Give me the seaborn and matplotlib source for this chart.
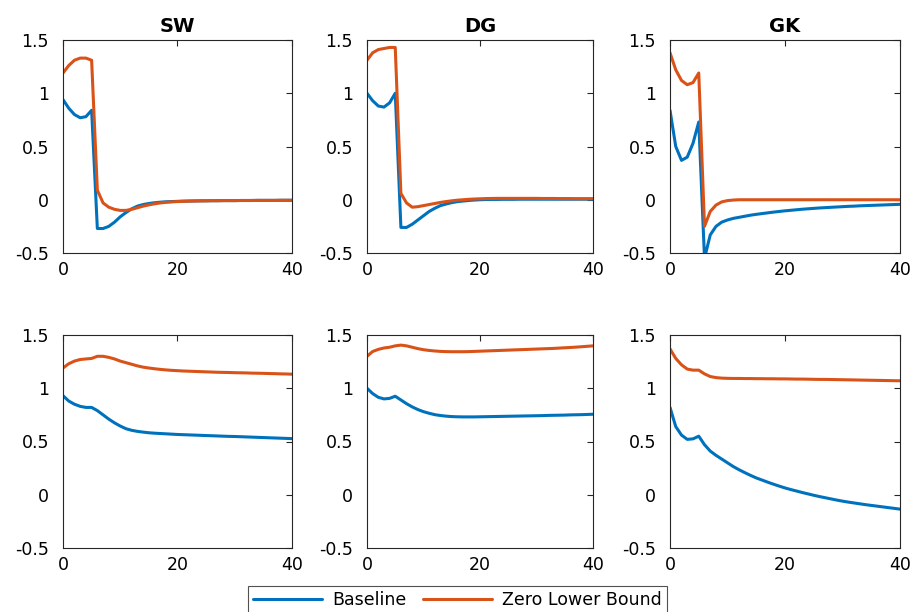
import numpy as np
import pandas as pd
import matplotlib
matplotlib.use("Agg")
import matplotlib.pyplot as plt
import seaborn as sns

# horizons 0..40
t = list(range(41))
models = ["SW", "DG", "GK"]

# top row
sw_top_base = [0.94, 0.86, 0.80, 0.77, 0.78, 0.84, -0.27, -0.27, -0.25, -0.21,
               -0.16, -0.12, -0.085, -0.06, -0.045, -0.035, -0.028, -0.023, -0.019, -0.017,
               -0.015, -0.013, -0.012, -0.011, -0.010, -0.010, -0.009, -0.009, -0.008, -0.008,
               -0.008, -0.007, -0.007, -0.007, -0.006, -0.006, -0.006, -0.006, -0.005, -0.005, -0.005]
sw_top_zlb = [1.19, 1.26, 1.31, 1.33, 1.33, 1.31, 0.09, -0.03, -0.07, -0.09,
              -0.10, -0.10, -0.09, -0.075, -0.06, -0.048, -0.038, -0.03, -0.024, -0.02,
              -0.017, -0.015, -0.013, -0.012, -0.011, -0.010, -0.009, -0.009, -0.008, -0.008,
              -0.008, -0.007, -0.007, -0.007, -0.006, -0.006, -0.006, -0.006, -0.005, -0.005, -0.005]
dg_top_base = [1.0, 0.93, 0.88, 0.87, 0.91, 1.0, -0.26, -0.26, -0.23, -0.19,
               -0.15, -0.11, -0.08, -0.055, -0.04, -0.027, -0.018, -0.012, -0.007, -0.003,
               0.0, 0.002, 0.003, 0.003, 0.004, 0.004, 0.004, 0.005, 0.005, 0.005,
               0.005, 0.005, 0.005, 0.005, 0.005, 0.005, 0.005, 0.005, 0.005, 0.005, 0.005]
dg_top_zlb = [1.31, 1.38, 1.41, 1.42, 1.43, 1.43, 0.06, -0.03, -0.07, -0.065,
              -0.055, -0.045, -0.035, -0.025, -0.017, -0.01, -0.004, 0.0, 0.004, 0.007,
              0.009, 0.011, 0.012, 0.013, 0.013, 0.013, 0.013, 0.013, 0.013, 0.013,
              0.013, 0.012, 0.012, 0.012, 0.011, 0.011, 0.011, 0.010, 0.010, 0.010, 0.010]
gk_top_base = [0.84, 0.50, 0.37, 0.40, 0.53, 0.73, -0.55, -0.33, -0.25, -0.21,
               -0.19, -0.175, -0.165, -0.155, -0.145, -0.137, -0.13, -0.123, -0.116, -0.11,
               -0.104, -0.099, -0.094, -0.089, -0.085, -0.081, -0.077, -0.074, -0.071, -0.068,
               -0.065, -0.062, -0.06, -0.057, -0.055, -0.053, -0.051, -0.049, -0.047, -0.045, -0.043]
gk_top_zlb = [1.38, 1.22, 1.12, 1.08, 1.10, 1.19, -0.25, -0.11, -0.05, -0.02,
              -0.008, -0.003, 0.0, 0.0, 0.0, 0.0, 0.0, 0.0, 0.0, 0.0,
              0.0, 0.0, 0.0, 0.0, 0.0, 0.0, 0.0, 0.0, 0.0, 0.0,
              0.0, 0.0, 0.0, 0.0, 0.0, 0.0, 0.0, 0.0, 0.0, 0.0, 0.0]

# bottom row
sw_bot_base = [0.93, 0.88, 0.85, 0.83, 0.82, 0.82, 0.79, 0.75, 0.71, 0.675,
               0.645, 0.62, 0.605, 0.595, 0.588, 0.582, 0.578, 0.575, 0.572, 0.569,
               0.566, 0.564, 0.562, 0.56, 0.558, 0.556, 0.554, 0.552, 0.55, 0.548,
               0.547, 0.545, 0.543, 0.541, 0.539, 0.537, 0.535, 0.533, 0.531, 0.529, 0.527]
sw_bot_zlb = [1.19, 1.23, 1.255, 1.27, 1.275, 1.28, 1.30, 1.30, 1.29, 1.275,
              1.255, 1.24, 1.225, 1.21, 1.198, 1.19, 1.183, 1.177, 1.172, 1.168,
              1.165, 1.162, 1.16, 1.158, 1.156, 1.154, 1.152, 1.15, 1.149, 1.148,
              1.146, 1.145, 1.144, 1.142, 1.141, 1.14, 1.138, 1.137, 1.135, 1.134, 1.132]
dg_bot_base = [1.0, 0.95, 0.915, 0.90, 0.905, 0.925, 0.89, 0.855, 0.825, 0.80,
               0.78, 0.765, 0.752, 0.744, 0.738, 0.734, 0.732, 0.731, 0.731, 0.731,
               0.732, 0.733, 0.734, 0.735, 0.736, 0.737, 0.738, 0.739, 0.74, 0.741,
               0.742, 0.743, 0.745, 0.746, 0.747, 0.748, 0.75, 0.751, 0.752, 0.754, 0.756]
dg_bot_zlb = [1.30, 1.345, 1.365, 1.378, 1.385, 1.398, 1.405, 1.398, 1.385, 1.372,
              1.362, 1.355, 1.35, 1.346, 1.344, 1.343, 1.343, 1.343, 1.344, 1.346,
              1.348, 1.35, 1.352, 1.354, 1.356, 1.358, 1.36, 1.362, 1.364, 1.366,
              1.368, 1.37, 1.372, 1.374, 1.377, 1.38, 1.383, 1.386, 1.39, 1.394, 1.398]
gk_bot_base = [0.82, 0.64, 0.56, 0.52, 0.525, 0.55, 0.47, 0.41, 0.37, 0.335,
               0.30, 0.265, 0.235, 0.208, 0.182, 0.158, 0.138, 0.118, 0.099, 0.081,
               0.064, 0.049, 0.035, 0.021, 0.008, -0.005, -0.017, -0.028, -0.039, -0.05,
               -0.06, -0.069, -0.077, -0.085, -0.093, -0.10, -0.107, -0.114, -0.121, -0.128, -0.135]
gk_bot_zlb = [1.37, 1.28, 1.22, 1.18, 1.17, 1.17, 1.135, 1.11, 1.10, 1.095,
              1.093, 1.092, 1.092, 1.091, 1.091, 1.090, 1.090, 1.089, 1.089, 1.088,
              1.088, 1.087, 1.086, 1.086, 1.085, 1.084, 1.083, 1.083, 1.082, 1.081,
              1.080, 1.079, 1.078, 1.077, 1.076, 1.075, 1.074, 1.073, 1.072, 1.071, 1.070]

top_rows = [(sw_top_base, sw_top_zlb), (dg_top_base, dg_top_zlb), (gk_top_base, gk_top_zlb)]
bot_rows = [(sw_bot_base, sw_bot_zlb), (dg_bot_base, dg_bot_zlb), (gk_bot_base, gk_bot_zlb)]

y_ticks = [-0.5, 0, 0.5, 1, 1.5]
y_labels = ["-0.5", "0", "0.5", "1", "1.5"]
x_ticks = [0, 20, 40]
palette = {"Baseline": "#0072BD", "Zero Lower Bound": "#D95319"}

sns.set_style("white")
plt.rcParams["font.family"] = ["DejaVu Sans"]
plt.rcParams["text.color"] = "black"

fig = plt.figure(figsize=(9.15, 6.12), dpi=100)
W, H = 915, 612
lefts = [63, 367, 670]
widths = [229, 226, 230]
tops = [40, 335]
height = 213


def draw_panel(ax, base, zlb, title=None):
    df = pd.DataFrame({
        "t": t + t,
        "value": base + zlb,
        "series": ["Baseline"] * len(t) + ["Zero Lower Bound"] * len(t),
    })
    sns.lineplot(data=df, x="t", y="value", hue="series", palette=palette,
                 linewidth=2.2, ax=ax, legend=False)
    ax.set_xlim(0, 40)
    ax.set_ylim(-0.5, 1.5)
    ax.set_xticks(x_ticks)
    ax.set_yticks(y_ticks)
    ax.set_yticklabels(y_labels)
    ax.set_xlabel("")
    ax.set_ylabel("")
    ax.tick_params(direction="in", length=4, width=0.8, labelsize=12.5, color="#262626",
                   labelcolor="black", top=True, right=True)
    ax.tick_params(axis="y", pad=10)
    ax.tick_params(axis="x", pad=6)
    for s in ax.spines.values():
        s.set_color("#262626")
        s.set_linewidth(0.8)
    if title:
        ax.set_title(title, fontsize=14, fontweight="bold", pad=6, color="black")


for r, rows in enumerate([top_rows, bot_rows]):
    for c, (base, zlb) in enumerate(rows):
        ax = fig.add_axes([lefts[c] / W, 1 - (tops[r] + height) / H, widths[c] / W, height / H])
        draw_panel(ax, base, zlb, models[c] if r == 0 else None)

handles = [plt.Line2D([], [], color=palette[k], linewidth=2.2) for k in palette]
leg = fig.legend(handles, list(palette.keys()), loc="lower center", ncol=2,
                 bbox_to_anchor=(0.5, -0.015), frameon=True, fancybox=False,
                 edgecolor="#262626", fontsize=12.5, handlelength=4.0,
                 columnspacing=0.9, handletextpad=0.6, borderpad=0.3, borderaxespad=0.4)
leg.get_frame().set_linewidth(0.8)
for txt in leg.get_texts():
    txt.set_color("black")

fig.savefig("out.png", dpi=100)
